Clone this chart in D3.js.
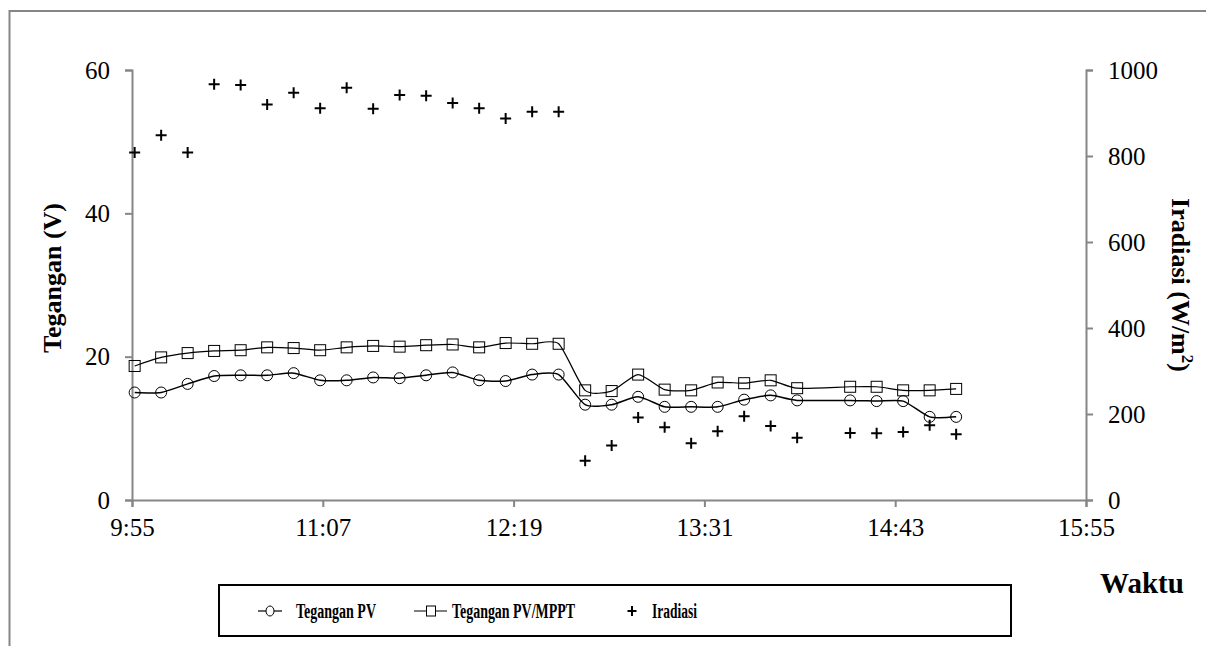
<!DOCTYPE html>
<html>
<head>
<meta charset="utf-8">
<script src="https://cdnjs.cloudflare.com/ajax/libs/d3/7.8.5/d3.min.js"></script>
<style>
  body { margin: 0; background: #fff; }
  text { font-family: "Liberation Serif", "Times New Roman", serif; }
</style>
</head>
<body>
<div id="chart"></div>
<script>
// measurement times (one reading missing at 14:16)
var times = ["9:56","10:06","10:16","10:26","10:36","10:46","10:56","11:06","11:16","11:26",
             "11:36","11:46","11:56","12:06","12:16","12:26","12:36","12:46","12:56","13:06",
             "13:16","13:26","13:36","13:46","13:56","14:06","14:26","14:36","14:46","14:56","15:06"];
var teganganPV = [15.0,15.0,16.2,17.3,17.4,17.4,17.7,16.7,16.7,17.1,
                  17.0,17.4,17.8,16.7,16.6,17.5,17.5,13.3,13.3,14.4,
                  13.0,13.0,13.0,14.0,14.6,13.9,13.9,13.8,13.8,11.6,11.6];
var teganganMPPT = [18.7,19.9,20.5,20.8,20.9,21.3,21.2,20.9,21.3,21.5,
                    21.4,21.6,21.7,21.3,21.9,21.8,21.8,15.3,15.2,17.5,
                    15.4,15.3,16.4,16.3,16.7,15.6,15.8,15.8,15.3,15.3,15.5];
var iradiasi = [808,848,808,967,965,920,947,911,959,910,
                942,940,923,911,887,903,903,91,127,192,
                169,132,160,195,172,145,156,155,158,174,153];
var xTickLabels = ["9:55","11:07","12:19","13:31","14:43","15:55"];
var yLeftTicks = [0,20,40,60];
var yRightTicks = [0,200,400,600,800,1000];

function toMin(s) { var p = s.split(":"); return +p[0]*60 + +p[1]; }

var W = 1206, H = 646;
var svg = d3.select("#chart").append("svg").attr("width", W).attr("height", H);

// outer frame
svg.append("rect").attr("x", 9.5).attr("y", 11).attr("width", 1210).attr("height", 700)
  .attr("fill", "none").attr("stroke", "#868686").attr("stroke-width", 2);

var mLeft = 132, mRight = 1086, mTop = 70, mBottom = 500;
var axisColor = "#868686";

var x = d3.scaleLinear().domain([toMin("9:55"), toMin("15:55")]).range([mLeft, mRight]);
var yL = d3.scaleLinear().domain([0, 60]).range([mBottom, mTop]);
var yR = d3.scaleLinear().domain([0, 1000]).range([mBottom, mTop]);

var data = times.map(function(t, i) {
  return {t: toMin(t), pv: teganganPV[i], mppt: teganganMPPT[i], ir: iradiasi[i]};
});

// axes
var xAxis = svg.append("g").attr("transform", "translate(0," + mBottom + ")")
  .call(d3.axisBottom(x).tickValues(xTickLabels.map(toMin)).tickFormat(function(d, i) { return xTickLabels[i]; }).tickSizeOuter(0).tickSize(7).tickPadding(11));
var yAxisL = svg.append("g").attr("transform", "translate(" + mLeft + ",0)")
  .call(d3.axisLeft(yL).tickValues(yLeftTicks).tickFormat(d3.format("d")).tickSizeOuter(0).tickSize(7).tickPadding(15));
var yAxisR = svg.append("g").attr("transform", "translate(" + mRight + ",0)")
  .call(d3.axisRight(yR).tickValues(yRightTicks).tickFormat(d3.format("d")).tickSizeOuter(0).tickSize(7).tickPadding(15));

[xAxis, yAxisL, yAxisR].forEach(function(g) {
  g.selectAll("path, line").attr("stroke", axisColor).attr("stroke-width", 2);
  g.selectAll("text").attr("font-family", "Liberation Serif").attr("font-size", 25).attr("fill", "#000");
});

// axis titles
svg.append("text").attr("transform", "translate(61,278) rotate(-90)")
  .attr("text-anchor", "middle").attr("font-size", 26).attr("font-weight", "bold").text("Tegangan (V)");
var rt = svg.append("text").attr("transform", "translate(1172,285) rotate(90)")
  .attr("text-anchor", "middle").attr("font-size", 26).attr("font-weight", "bold");
rt.append("tspan").text("Iradiasi (W/m");
rt.append("tspan").attr("font-size", 17).attr("dy", -10).text("2");
rt.append("tspan").attr("dy", 10).text(")");
svg.append("text").attr("x", 1142).attr("y", 593).attr("text-anchor", "middle")
  .attr("font-size", 29).attr("font-weight", "bold").text("Waktu");

// lines
var curve = d3.curveCardinal.tension(0.35);
var linePV = d3.line().x(function(d) { return x(d.t); }).y(function(d) { return yL(d.pv); }).curve(curve);
var lineMPPT = d3.line().x(function(d) { return x(d.t); }).y(function(d) { return yL(d.mppt); }).curve(curve);

svg.append("path").datum(data).attr("d", lineMPPT).attr("fill", "none").attr("stroke", "#000").attr("stroke-width", 1.2);
svg.append("path").datum(data).attr("d", linePV).attr("fill", "none").attr("stroke", "#000").attr("stroke-width", 1.5);

// markers
svg.selectAll(".sq").data(data).enter().append("rect")
  .attr("x", function(d) { return x(d.t) - 5.5; })
  .attr("y", function(d) { return yL(d.mppt) - 5.5; })
  .attr("width", 11).attr("height", 11)
  .attr("fill", "none").attr("stroke", "#000").attr("stroke-width", 1);

svg.selectAll(".ci").data(data).enter().append("circle")
  .attr("cx", function(d) { return x(d.t); })
  .attr("cy", function(d) { return yL(d.pv); })
  .attr("r", 5.5)
  .attr("fill", "none").attr("stroke", "#000").attr("stroke-width", 1);

svg.selectAll(".pl").data(data).enter().append("path")
  .attr("transform", function(d) { return "translate(" + x(d.t) + "," + yR(d.ir) + ")"; })
  .attr("d", "M-5.5,0H5.5M0,-5.5V5.5")
  .attr("stroke", "#000").attr("stroke-width", 2).attr("fill", "none");

// legend
var lg = svg.append("g");
lg.append("rect").attr("x", 219).attr("y", 585).attr("width", 792).attr("height", 51)
  .attr("fill", "none").attr("stroke", "#000").attr("stroke-width", 2);
var ly = 611;
function legendText(xp, w, s) {
  lg.append("text").attr("x", xp).attr("y", ly + 7).attr("font-size", 20).attr("font-weight", "bold")
    .attr("textLength", w).attr("lengthAdjust", "spacingAndGlyphs").text(s);
}
lg.append("line").attr("x1", 258).attr("x2", 282).attr("y1", ly).attr("y2", ly).attr("stroke", "#000").attr("stroke-width", 1.2);
lg.append("ellipse").attr("cx", 270).attr("cy", ly).attr("rx", 4).attr("ry", 5).attr("fill", "#fff").attr("stroke", "#000");
legendText(296, 80, "Tegangan PV");
lg.append("line").attr("x1", 414).attr("x2", 447).attr("y1", ly).attr("y2", ly).attr("stroke", "#000").attr("stroke-width", 1.2);
lg.append("rect").attr("x", 426.5).attr("y", ly - 5).attr("width", 9).attr("height", 10).attr("fill", "#fff").attr("stroke", "#000");
legendText(452, 123, "Tegangan PV/MPPT");
lg.append("path").attr("transform", "translate(632," + ly + ")").attr("d", "M-4.5,0H4.5M0,-5V5")
  .attr("stroke", "#000").attr("stroke-width", 2);
legendText(652, 45, "Iradiasi");
</script>
</body>
</html>
